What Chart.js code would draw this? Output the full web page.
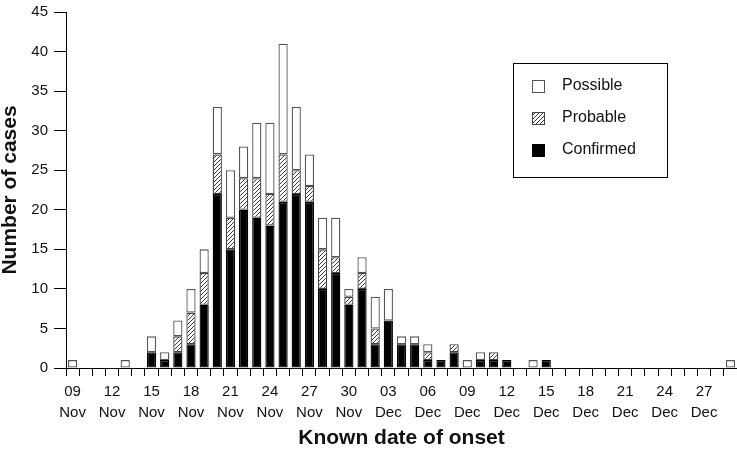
<!DOCTYPE html>
<html>
<head>
<meta charset="utf-8">
<script src="https://cdn.jsdelivr.net/npm/chart.js@4.4.1/dist/chart.umd.min.js"></script>
<style>
  html, body { margin: 0; padding: 0; background: #fff; }
  #wrap { width: 737px; height: 449px; }
</style>
</head>
<body>
<div id="wrap"><canvas id="c" width="737" height="449"></canvas></div>
<script>
const categories = [
  '09 Nov','10 Nov','11 Nov','12 Nov','13 Nov','14 Nov','15 Nov','16 Nov','17 Nov','18 Nov',
  '19 Nov','20 Nov','21 Nov','22 Nov','23 Nov','24 Nov','25 Nov','26 Nov','27 Nov','28 Nov',
  '29 Nov','30 Nov','01 Dec','02 Dec','03 Dec','04 Dec','05 Dec','06 Dec','07 Dec','08 Dec',
  '09 Dec','10 Dec','11 Dec','12 Dec','13 Dec','14 Dec','15 Dec','16 Dec','17 Dec','18 Dec',
  '19 Dec','20 Dec','21 Dec','22 Dec','23 Dec','24 Dec','25 Dec','26 Dec','27 Dec','28 Dec',
  '29 Dec'
];
const tickLabels = ['09 Nov','12 Nov','15 Nov','18 Nov','21 Nov','24 Nov','27 Nov','30 Nov',
  '03 Dec','06 Dec','09 Dec','12 Dec','15 Dec','18 Dec','21 Dec','24 Dec','27 Dec'];
const confirmed = [0,0,0,0,0,0, 2,1,2,3,8, 22,15,20,19,18,21,22,21,10,12, 8,10,3,6,3,3,1,1,2,
  0,1,1,1,0,0,1, 0,0,0,0,0,0,0,0,0,0,0,0,0,0];
const probable = [0,0,0,0,0,0, 0,0,2,4,4, 5,4,4,5,4,6,3,2,5,2, 1,2,2,0,0,0,1,0,1,
  0,0,1,0,0,0,0, 0,0,0,0,0,0,0,0,0,0,0,0,0,0];
const possible = [1,0,0,0,1,0, 2,1,2,3,3, 6,6,4,7,9,14,8,4,4,5, 1,2,4,4,1,1,1,0,0,
  1,1,0,0,0,1,0, 0,0,0,0,0,0,0,0,0,0,0,0,0,1];
const yTicks = [0,5,10,15,20,25,30,35,40,45];
const seriesNames = ['Confirmed','Probable','Possible'];

function hatch() {
  const t = document.createElement('canvas');
  t.width = 4; t.height = 4;
  const g = t.getContext('2d');
  g.fillStyle = '#fff'; g.fillRect(0,0,4,4);
  g.strokeStyle = '#3a3a3a'; g.lineWidth = 1;
  g.beginPath();
  g.moveTo(0,4); g.lineTo(4,0);
  g.moveTo(-1,1); g.lineTo(1,-1);
  g.moveTo(3,5); g.lineTo(5,3);
  g.stroke();
  return g.createPattern(t, 'repeat');
}
const hatchPattern = hatch();
const nz = a => a.map(v => v === 0 ? null : v);

const legendBox = {
  id: 'legendBox',
  afterDraw(chart) {
    const ctx = chart.ctx;
    ctx.save();
    const x0 = 513.5, y0 = 63.5, w = 154, h = 114;
    ctx.strokeStyle = '#000'; ctx.lineWidth = 1;
    ctx.strokeRect(x0, y0, w, h);
    const ds = chart.data.datasets.slice().reverse();
    ds.forEach((d, i) => {
      const cy = 86 + i * 32;
      ctx.fillStyle = d.backgroundColor;
      ctx.fillRect(532, cy - 6, 13, 13);
      ctx.strokeStyle = d.borderColor; ctx.lineWidth = 1;
      ctx.strokeRect(532.5, cy - 5.5, 12, 12);
      ctx.fillStyle = '#111';
      ctx.font = '16px "Liberation Sans", Arial, sans-serif';
      ctx.textBaseline = 'middle';
      ctx.textAlign = 'left';
      ctx.fillText(d.label, 562, cy);
    });
    ctx.restore();
  }
};

new Chart(document.getElementById('c'), {
  type: 'bar',
  data: {
    labels: categories,
    datasets: [
      { label: seriesNames[0], data: nz(confirmed), backgroundColor: '#000', borderColor: '#000' },
      { label: seriesNames[1], data: nz(probable), backgroundColor: hatchPattern, borderColor: '#444' },
      { label: seriesNames[2], data: nz(possible), backgroundColor: '#fff', borderColor: '#555' }
    ]
  },
  options: {
    responsive: false,
    animation: false,
    layout: { padding: { top: 6, right: 0, left: 0, bottom: 0 } },
    datasets: { bar: { categoryPercentage: 1, barPercentage: 0.7, borderWidth: 1.3, borderSkipped: false } },
    plugins: { legend: { display: false }, tooltip: { enabled: false } },
    scales: {
      x: {
        stacked: true,
        offset: true,
        afterFit(s) { s.height = 81; },
        grid: { display: true, drawOnChartArea: false, drawTicks: true, tickLength: 8, offset: true, color: '#000', lineWidth: 1 },
        border: { display: true, color: '#000', width: 1 },
        ticks: {
          autoSkip: false, maxRotation: 0, minRotation: 0, padding: 6, color: '#111',
          font: { family: '"Liberation Sans", Arial, sans-serif', size: 15, lineHeight: 1.35 },
          callback(v, i) {
            const c = categories[i];
            return tickLabels.includes(c) ? c.split(' ') : '';
          }
        },
        title: {
          display: true, text: 'Known date of onset', color: '#111',
          font: { family: '"Liberation Sans", Arial, sans-serif', size: 21, weight: 'bold', lineHeight: 1.0 },
          padding: { top: 0, bottom: 0 }
        }
      },
      y: {
        stacked: true,
        min: yTicks[0], max: yTicks[yTicks.length - 1],
        afterFit(s) { s.width = 66; },
        afterBuildTicks(s) { s.ticks = yTicks.map(v => ({ value: v })); },
        grid: { display: true, drawOnChartArea: false, drawTicks: true, tickLength: 12, color: '#000', lineWidth: 1 },
        border: { display: true, color: '#000', width: 1 },
        ticks: {
          padding: 6, color: '#111',
          font: { family: '"Liberation Sans", Arial, sans-serif', size: 15, lineHeight: 0.8 }
        },
        title: {
          display: true, text: 'Number of cases', color: '#111',
          font: { family: '"Liberation Sans", Arial, sans-serif', size: 21, weight: 'bold', lineHeight: 1.0 },
          padding: { top: 0, bottom: 0 }
        }
      }
    }
  },
  plugins: [legendBox]
});
</script>
</body>
</html>
